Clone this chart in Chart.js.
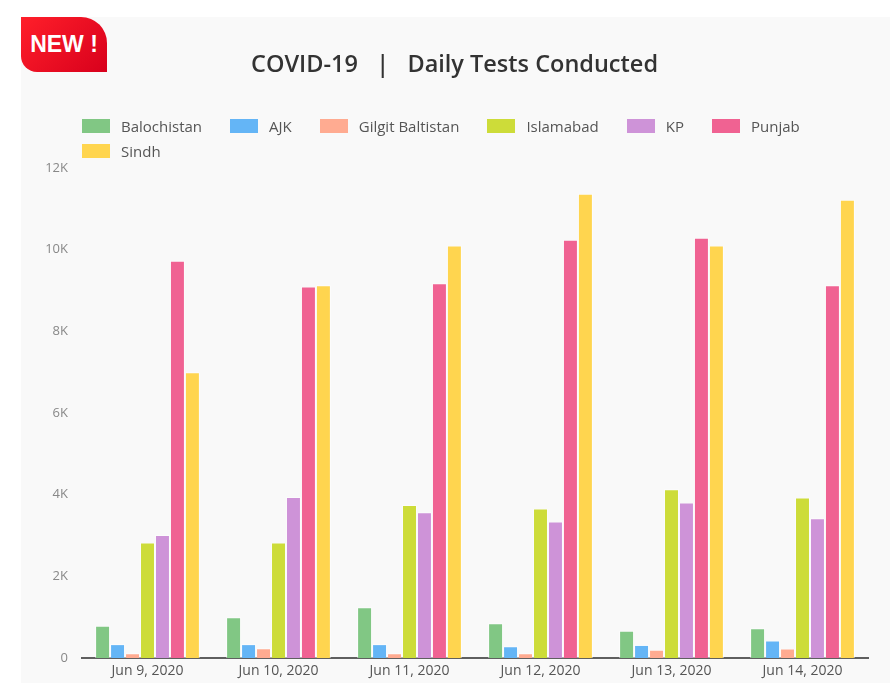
<!DOCTYPE html>
<html>
<head>
<meta charset="utf-8">
<title>COVID-19 | Daily Tests Conducted</title>
<script src="https://cdn.jsdelivr.net/npm/chart.js@4.4.1/dist/chart.umd.min.js"></script>
<style>
    body {
        margin: 0;
        background: #ffffff;
        font-family: 'Open Sans', sans-serif;
    }
    .painel {
        position: absolute;
        left: 21px;
        top: 17px;
        width: 869px;
        height: 666px;
        background: #f9f9f9;
    }
    .novo {
        position: absolute;
        left: 21px;
        top: 17px;
        width: 86px;
        height: 55px;
        background: linear-gradient(135deg, #ff1f2a, #d8001c);
        border-radius: 0 26px 0 16px;
        color: #ffffff;
        font: bold 23px 'Liberation Sans', Arial, sans-serif;
        line-height: 55px;
        text-align: center;
        z-index: 2;
    }
    .legenda {
        position: absolute;
        left: 61px;
        top: 96px;
        width: 790px;
        display: flex;
        flex-wrap: wrap;
    }
    .item-legenda {
        display: flex;
        align-items: center;
        height: 25px;
        margin-right: 28px;
        font-size: 15px;
        color: #555555;
    }
    .caixa-legenda {
        width: 28px;
        height: 14px;
        margin-right: 11px;
    }
</style>
</head>
<body>
<div class="novo">NEW !</div>
<div class="painel">
    <canvas id="grafico-testes"></canvas>
    <div class="legenda" id="div_legenda"></div>
</div>
<script>
var datas = ['Jun 9, 2020', 'Jun 10, 2020', 'Jun 11, 2020', 'Jun 12, 2020', 'Jun 13, 2020', 'Jun 14, 2020'];

var provincias = ['Balochistan', 'AJK', 'Gilgit Baltistan', 'Islamabad', 'KP', 'Punjab', 'Sindh'];
var cores = ['#81c784', '#64b5f6', '#ffab91', '#cddc39', '#ce93d8', '#f06292', '#ffd54f'];

var valoresBalochistan = [790, 1000, 1240, 850, 670, 730];
var valoresAJK = [340, 340, 340, 290, 320, 430];
var valoresGilgit = [115, 240, 115, 115, 200, 230];
var valoresIslamabad = [2830, 2830, 3750, 3660, 4130, 3930];
var valoresKP = [3010, 3940, 3570, 3340, 3810, 3420];
var valoresPunjab = [9730, 9100, 9180, 10240, 10290, 9130];
var valoresSindh = [7000, 9130, 10100, 11370, 10100, 11220];

var ticksY = ['0', '2K', '4K', '6K', '8K', '10K', '12K'];

var todosValores = [valoresBalochistan, valoresAJK, valoresGilgit, valoresIslamabad, valoresKP, valoresPunjab, valoresSindh];

var conjuntos = [];
for (var i = 0; i < provincias.length; i++) {
    conjuntos.push({
        label: provincias[i],
        data: todosValores[i],
        backgroundColor: cores[i],
        borderColor: 'rgba(255,255,255,0.55)',
        borderWidth: 1,
        barPercentage: 1,
        categoryPercentage: 0.8
    });
}

const canvasTestes = document.getElementById('grafico-testes');
canvasTestes.parentNode.style.height = '666px';

new Chart(canvasTestes, {
    type: 'bar',
    data: {
        labels: datas,
        datasets: conjuntos
    },
    options: {
        responsive: true,
        maintainAspectRatio: false,
        animation: false,
        layout: {
            padding: { left: 20, right: 22, top: 0, bottom: 0 }
        },
        scales: {
            y: {
                min: 0,
                max: 12000,
                ticks: {
                    stepSize: 2000,
                    padding: 14,
                    color: '#888888',
                    font: { family: 'Open Sans', size: 13 },
                    callback: function (valor, indice) {
                        return ticksY[indice];
                    }
                },
                grid: { display: false, drawTicks: false },
                border: { display: false },
                afterFit: function (escala) { escala.width = 41; }
            },
            x: {
                ticks: {
                    padding: 5,
                    color: '#555555',
                    font: { family: 'Open Sans', size: 14 }
                },
                grid: { display: false, drawTicks: false },
                border: { display: true, color: '#5f5f5f', width: 2 },
                afterFit: function (escala) { escala.height = 25; }
            }
        },
        plugins: {
            legend: { display: false },
            tooltip: { enabled: false },
            title: {
                display: true,
                text: 'COVID-19   |   Daily Tests Conducted',
                color: '#333333',
                font: { family: 'Open Sans', size: 23.5, weight: '600' },
                padding: { top: 34, bottom: 88.8 }
            }
        }
    }
});

// legenda em html, feita a partir dos mesmos arrays
var legenda = document.getElementById('div_legenda');
for (var j = 0; j < provincias.length; j++) {
    legenda.innerHTML += `
        <div class="item-legenda">
            <div class="caixa-legenda" style="background: ${cores[j]}"></div>
            <span>${provincias[j]}</span>
        </div>`;
}
</script>
</body>
</html>
